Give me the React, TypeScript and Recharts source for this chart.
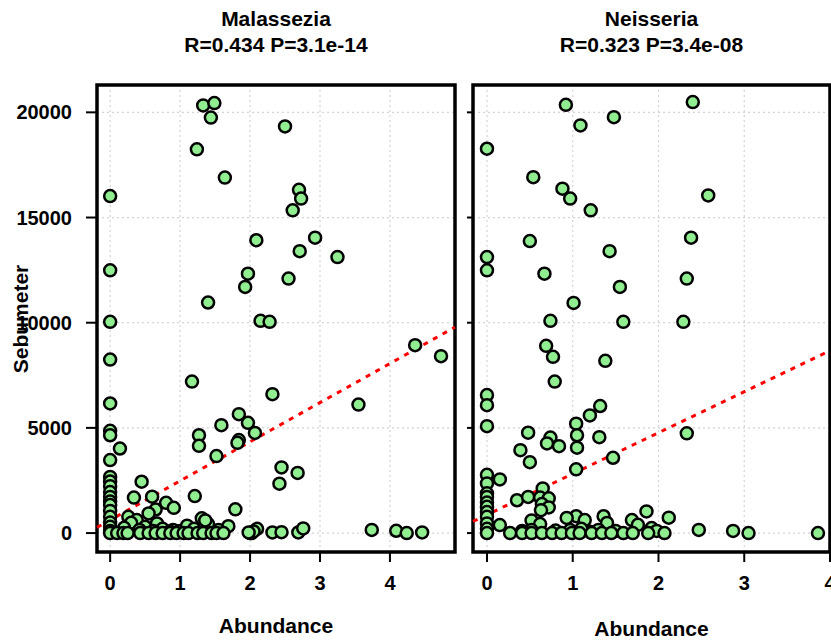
import React from 'react';
import { ScatterChart, Scatter, XAxis, YAxis, CartesianGrid, ReferenceLine, ReferenceArea } from 'recharts';

const FONT = '"Liberation Sans", Arial, Helvetica, sans-serif';

// ---- data ----
const xTicks = [0, 1, 2, 3, 4];
const yTicks = [0, 5000, 10000, 15000, 20000];

const panelTitles = ['Malassezia', 'Neisseria'];
const panelStats = ['R=0.434 P=3.1e-14', 'R=0.323 P=3.4e-08'];
const xLabel = 'Abundance';
const yLabel = 'Sebumeter';

// [abundance, sebumeter]
const malasseziaPoints: [number, number][] = [
  [0, 16020], [0, 12490], [0, 10040], [0, 8250],
  [1.33, 20330], [1.49, 20440], [1.44, 19750], [1.24, 18240], [1.64, 16900], [2.5, 19330],
  [2.7, 16320], [2.73, 15900], [2.61, 15340], [2.93, 14040], [2.09, 13920], [2.71, 13400],
  [3.25, 13120], [1.97, 12330], [1.93, 11700], [2.55, 12100], [1.4, 10960], [2.15, 10090],
  [2.28, 10040], [4.36, 8930], [4.73, 8410], [1.17, 7200],
  [2.32, 6600], [3.55, 6110], [1.84, 5650], [1.97, 5240], [1.59, 5130], [2.07, 4760],
  [1.27, 4650], [1.27, 4150], [1.84, 4420], [1.82, 4290], [1.52, 3660], [2.45, 3120],
  [2.68, 2860], [2.42, 2350],
  [0, 6160], [0, 4860], [0, 4650], [0, 3470], [0, 2670], [0, 2450], [0, 2230], [0, 1950],
  [0, 1720], [0, 1500], [0, 1330], [0, 1050], [0, 770], [0, 500], [0, 300], [0, 100], [0, 0],
  [0.14, 4020], [0.45, 2440], [0.34, 1690], [0.6, 1730], [0.65, 1120], [0.8, 1440], [0.91, 1200],
  [0.55, 935], [0.26, 775], [0.38, 620], [0.3, 490], [0.67, 460], [0.5, 300], [0.2, 250],
  [0.75, 200], [0.9, 150], [1.0, 100], [1.1, 350], [1.21, 1760], [1.79, 1130], [1.31, 700],
  [1.4, 430], [1.36, 600], [1.69, 330], [1.55, 150], [1.2, 200], [0.42, 150], [0.62, 100], [0.85, 80],
  [0.1, 0], [0.19, 0], [0.25, 0], [0.43, 0], [0.55, 0], [0.65, 0], [0.75, 0], [0.86, 0],
  [0.95, 0], [1.05, 0], [1.12, 0], [1.25, 0], [1.33, 0], [1.45, 0], [1.52, 0], [1.62, 0],
  [2.0, 0], [2.02, 0],
  [2.1, 200], [2.05, 80], [2.32, 30], [2.45, 40], [2.69, 30], [2.76, 220], [3.74, 150],
  [4.09, 110], [4.24, 0], [4.46, 30], [1.98, 30],
];

const neisseriaPoints: [number, number][] = [
  [0.92, 20360], [2.4, 20490], [1.48, 19770], [1.09, 19380], [0, 18270], [0.54, 16920],
  [0.88, 16370], [0.97, 15900], [1.21, 15340], [2.58, 16050], [0.5, 13880], [2.38, 14040],
  [0, 13120], [0, 12490], [1.43, 13400], [0.67, 12330], [2.33, 12100], [1.55, 11700],
  [1.01, 10940], [0.74, 10090], [1.59, 10040], [2.29, 10040], [0.69, 8900], [0.77, 8380],
  [1.38, 8190], [0.79, 7200],
  [0, 6560], [0, 6080], [0, 5080], [1.32, 6040], [1.2, 5590], [1.04, 5200], [1.05, 4650],
  [1.31, 4560], [0.48, 4770], [0.74, 4540], [0.7, 4260], [0.84, 4130], [1.05, 4060],
  [0.39, 3940], [0.5, 3370], [1.47, 3580], [1.04, 3030], [2.33, 4740],
  [0, 2770], [0, 2360], [0, 1890], [0, 1720], [0, 1450], [0, 1250], [0, 1000], [0, 770],
  [0, 460], [0, 200], [0, 0],
  [0.15, 2550], [0.65, 2120], [0.35, 1560], [0.48, 1720], [0.62, 1690], [0.72, 1650],
  [0.64, 1380], [0.72, 1220], [0.63, 1090], [0.15, 380], [1.86, 1030], [2.12, 730],
  [1.36, 800], [1.04, 800], [0.93, 720], [1.14, 620], [1.69, 620], [1.76, 390], [0.52, 600],
  [0.62, 430], [1.4, 480], [1.92, 240], [0.52, 140], [1.2, 60], [2.47, 150], [2.87, 100],
  [0.41, 100], [0.97, 140], [0.8, 120], [1.1, 200], [1.3, 150], [1.5, 100], [1.98, 100],
  [0.27, 0], [0.41, 0], [0.52, 0], [0.64, 0], [0.76, 0], [0.87, 0], [0.99, 0], [1.08, 0],
  [1.22, 0], [1.34, 0], [1.45, 0], [1.59, 0], [1.7, 0], [1.88, 0], [2.07, 0], [3.05, 0], [3.86, 0],
];

const fitIntercepts = [620, 870];
const fitSlopes = [1860, 1950];

const yDomain: [number, number] = [-900, 21300];
const malXDomain: [number, number] = [-0.188, 4.93];
const neiXDomain: [number, number] = [-0.163, 4.0];

// ---- drawing ----
const Dot = (props: any) => {
  if (props.cx == null || props.cy == null) return null;
  return <circle cx={props.cx} cy={props.cy} r={6} fill="#90EE90" stroke="#000" strokeWidth={2.5} />;
};

const tickStyle = { fill: '#000', fontSize: 20, fontWeight: 'bold', fontFamily: FONT };

type PanelProps = {
  points: [number, number][];
  intercept: number;
  slope: number;
  xDomain: [number, number];
  width: number;
  margin: { top: number; right: number; bottom: number; left: number };
  yAxisWidth: number;
  yTickSize: number;
  showYLabels: boolean;
};

function Panel(p: PanelProps) {
  const data = p.points.map(([x, y]) => ({ x, y }));
  const [x0, x1] = p.xDomain;
  return (
    <ScatterChart width={p.width} height={644} margin={p.margin}>
      <CartesianGrid stroke="#d4d4d4" strokeDasharray="2 3" strokeWidth={1.2} />
      <XAxis
        type="number"
        dataKey="x"
        domain={p.xDomain}
        ticks={xTicks}
        allowDataOverflow
        axisLine={false}
        tickLine={{ stroke: '#000', strokeWidth: 2 }}
        tickSize={10}
        tickMargin={14}
        height={60}
        tick={tickStyle}
        interval={0}
      />
      <YAxis
        type="number"
        dataKey="y"
        domain={yDomain}
        ticks={yTicks}
        allowDataOverflow
        axisLine={false}
        tickLine={{ stroke: '#000', strokeWidth: 2 }}
        tickSize={p.yTickSize}
        tickMargin={14}
        width={p.yAxisWidth}
        tick={tickStyle}
        interval={0}
        tickFormatter={(v: number) => (p.showYLabels ? String(v) : '')}
      />
      <Scatter data={data} shape={Dot} isAnimationActive={false} />
      <ReferenceLine
        segment={[
          { x: x0, y: p.intercept + p.slope * x0 },
          { x: x1, y: p.intercept + p.slope * x1 },
        ]}
        stroke="#ff0000"
        strokeWidth={3}
        strokeDasharray="5 6"
        ifOverflow="visible"
      />
      <ReferenceArea
        x1={x0}
        x2={x1}
        y1={yDomain[0]}
        y2={yDomain[1]}
        fill="none"
        fillOpacity={0}
        stroke="#000"
        strokeWidth={3.5}
        ifOverflow="visible"
      />
    </ScatterChart>
  );
}

export default function App() {
  return (
    <div style={{ position: 'absolute', left: 0, top: 0, width: 831, height: 644, background: '#fff', overflow: 'hidden' }}>
      <div style={{ position: 'absolute', left: 0, top: 0 }}>
        <Panel
          points={malasseziaPoints}
          intercept={fitIntercepts[0]}
          slope={fitSlopes[0]}
          xDomain={malXDomain}
          width={470}
          margin={{ top: 85, right: 15, bottom: 32, left: 7 }}
          yAxisWidth={90}
          yTickSize={11}
          showYLabels={true}
        />
      </div>
      <div style={{ position: 'absolute', left: 460, top: 0 }}>
        <Panel
          points={neisseriaPoints}
          intercept={fitIntercepts[1]}
          slope={fitSlopes[1]}
          xDomain={neiXDomain}
          width={371}
          margin={{ top: 85, right: 1, bottom: 32, left: 3 }}
          yAxisWidth={10}
          yTickSize={6}
          showYLabels={false}
        />
      </div>
      <svg width={831} height={644} style={{ position: 'absolute', left: 0, top: 0, pointerEvents: 'none' }}>
        <g fontFamily={FONT} fontWeight="bold" fill="#000" textAnchor="middle">
          <text x={276} y={26} fontSize={21}>{panelTitles[0]}</text>
          <text x={276} y={52} fontSize={21}>{panelStats[0]}</text>
          <text x={651.5} y={26} fontSize={21}>{panelTitles[1]}</text>
          <text x={651.5} y={52} fontSize={21}>{panelStats[1]}</text>
          <text x={276} y={633} fontSize={21}>{xLabel}</text>
          <text x={651.5} y={636} fontSize={21}>{xLabel}</text>
          <text x={28} y={319} fontSize={21} transform="rotate(-90 28 319)">{yLabel}</text>
        </g>
      </svg>
    </div>
  );
}
